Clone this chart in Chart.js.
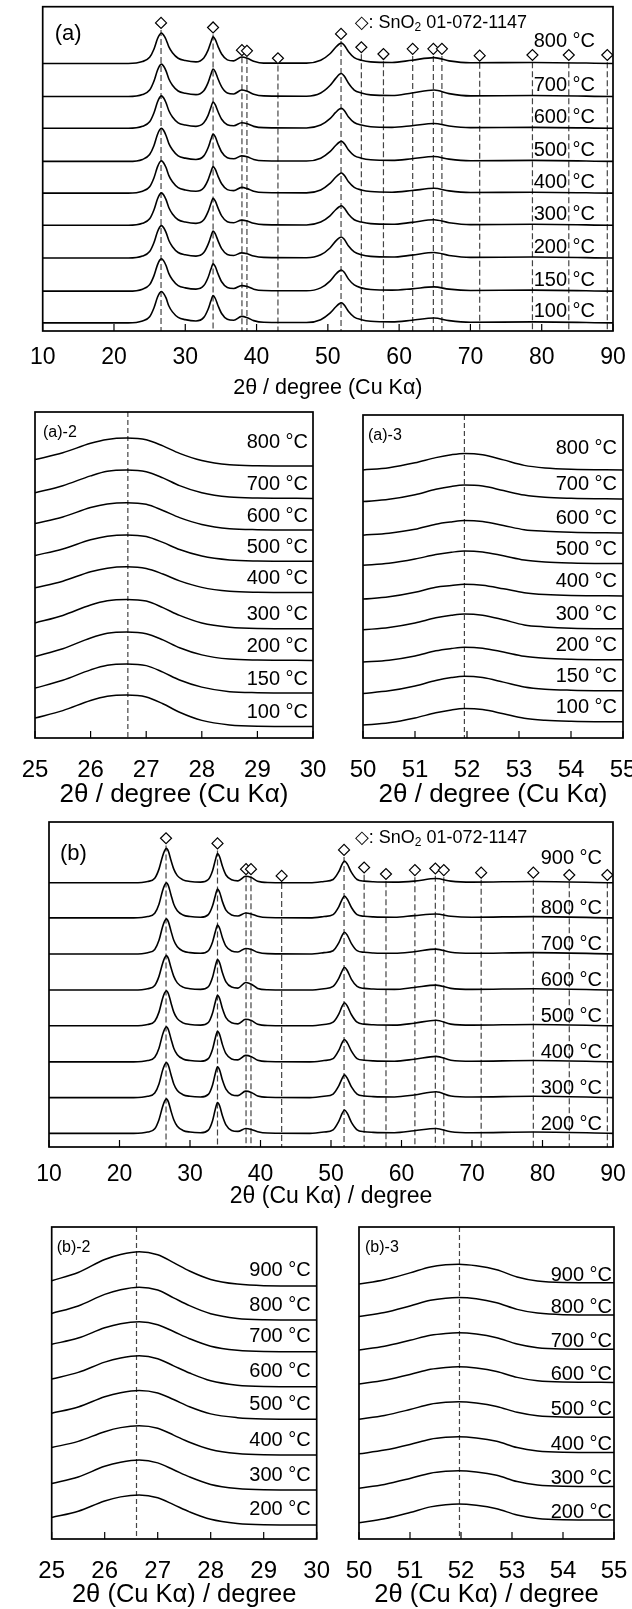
<!DOCTYPE html>
<html>
<head>
<meta charset="utf-8">
<script src="https://cdn.jsdelivr.net/npm/chart.js@4.4.0/dist/chart.umd.min.js"></script>
<style>
html, body { margin: 0; padding: 0; background: #fff; overflow: hidden; }
body { width: 632px; height: 1609px; position: relative; }
canvas { position: absolute; }
</style>
</head>
<body>
<canvas id="ca"></canvas>
<canvas id="ca2"></canvas>
<canvas id="ca3"></canvas>
<canvas id="cb"></canvas>
<canvas id="cb2"></canvas>
<canvas id="cb3"></canvas>
<script>
// --- wide scans, 2theta grid (deg)
const scanX = [10, 22, 24, 25, 25.6, 26.1, 26.4, 26.65, 26.95, 27.3, 27.7, 28.2, 29, 30, 31.5, 32.6, 33.2, 33.6, 33.9, 34.2,
	34.6, 35.1, 35.9, 36.8, 37.9, 38.7, 39.6, 41, 47, 49, 50.3, 51.1, 51.6, 51.9, 52.3, 52.9, 53.7, 54.7, 56, 59,
	61.8, 64.9, 67, 70, 78.7, 90];

// (a) intensities above each baseline
const tempsA = [100, 150, 200, 300, 400, 500, 600, 700, 800];
const offsetsA = [0.25, 1.23, 2.25, 3.26, 4.25, 5.23, 6.25, 7.23, 8.25];
const a100 = [0, 0, .06, .19, .46, .79, .92, .97, .91, .77, .52, .34, .17, .10, .06, .17, .42, .68, .84, .76, .53, .29, .11, .08, .2, .16, .07, .02, .01, .1, .3, .49, .59, .62, .55, .35, .18, .1, .05, .03, .08, .15, .07, .02, .03, 0];
const a150 = [0, 0, .06, .20, .47, .81, .95, 1.0, .94, .79, .54, .35, .17, .10, .06, .17, .42, .68, .84, .76, .53, .29, .11, .08, .17, .14, .06, .02, .01, .1, .31, .52, .62, .65, .58, .37, .19, .1, .05, .03, .07, .13, .06, .02, .03, 0];
const a200 = [0, 0, .06, .20, .47, .81, .95, 1.0, .94, .79, .54, .35, .17, .10, .06, .17, .42, .67, .83, .75, .53, .29, .11, .08, .16, .13, .06, .02, .01, .1, .31, .52, .62, .65, .58, .37, .19, .1, .05, .03, .09, .17, .08, .02, .03, 0];
const a300 = [0, 0, .06, .20, .47, .81, .95, 1.0, .94, .79, .54, .35, .17, .10, .06, .17, .42, .67, .83, .75, .53, .29, .11, .08, .16, .13, .06, .02, .01, .1, .29, .48, .57, .60, .53, .34, .17, .1, .05, .03, .09, .17, .08, .02, .03, 0];
const a400 = [0, 0, .06, .20, .47, .81, .95, 1.0, .94, .79, .54, .35, .17, .10, .06, .17, .41, .66, .82, .74, .52, .29, .11, .08, .18, .14, .06, .02, .01, .1, .3, .49, .59, .62, .55, .35, .18, .1, .05, .03, .08, .15, .07, .02, .03, 0];
const a500 = [0, 0, .06, .21, .48, .83, .97, 1.02, .96, .80, .55, .36, .17, .10, .06, .17, .42, .68, .84, .76, .53, .29, .11, .08, .17, .14, .06, .02, .01, .1, .3, .49, .59, .62, .55, .35, .18, .1, .05, .03, .08, .15, .07, .02, .03, 0];
const a600 = [0, 0, .06, .20, .47, .81, .95, 1.0, .94, .79, .54, .35, .17, .10, .06, .17, .40, .65, .81, .73, .51, .28, .11, .08, .17, .14, .06, .02, .01, .1, .3, .49, .59, .62, .55, .35, .18, .1, .05, .03, .08, .15, .07, .02, .03, 0];
const a700 = [0, 0, .06, .20, .47, .81, .95, 1.0, .94, .79, .54, .35, .17, .10, .06, .18, .43, .69, .85, .77, .54, .30, .11, .08, .2, .16, .07, .02, .01, .11, .34, .56, .68, .71, .63, .41, .2, .11, .05, .03, .11, .2, .09, .02, .03, 0];
const a800 = [0, 0, .06, .19, .44, .76, .89, .94, .88, .74, .51, .33, .16, .09, .05, .17, .41, .66, .82, .74, .52, .29, .11, .08, .2, .16, .07, .01, .01, .1, .3, .5, .6, .63, .56, .36, .18, .1, .05, .03, .1, .18, .08, .02, .03, 0];

// (b)
const tempsB = [200, 300, 400, 500, 600, 700, 800, 900];
const offsetsB = [0.42, 1.52, 2.62, 3.73, 4.83, 5.94, 7.05, 8.13];
const b200 = [0, 0, .04, .14, .42, .81, .99, 1.06, .96, .69, .42, .22, .09, .04, .02, .1, .39, .75, .95, .85, .54, .26, .09, .06, .15, .12, .05, .01, 0, .04, .11, .37, .62, .72, .62, .34, .11, .05, .03, .02, .08, .15, .05, .02, .04, 0];
const b300 = [0, 0, .04, .14, .42, .83, 1.01, 1.08, .98, .71, .42, .22, .09, .04, .02, .1, .39, .75, .95, .85, .54, .26, .09, .06, .2, .16, .05, .01, 0, .04, .11, .36, .6, .70, .6, .33, .11, .05, .03, .02, .08, .18, .05, .02, .04, 0];
const b400 = [0, 0, .04, .14, .42, .83, 1.01, 1.08, .98, .71, .42, .22, .09, .04, .02, .1, .39, .74, .94, .84, .53, .25, .09, .06, .2, .16, .05, .01, 0, .04, .1, .35, .6, .69, .59, .33, .1, .05, .03, .02, .08, .17, .05, .02, .04, 0];
const b500 = [0, 0, .04, .14, .42, .83, 1.01, 1.08, .98, .71, .42, .22, .09, .04, .02, .1, .39, .74, .94, .84, .53, .25, .09, .06, .2, .16, .05, .01, 0, .04, .11, .36, .61, .71, .61, .34, .11, .05, .03, .02, .08, .17, .05, .02, .04, 0];
const b600 = [0, 0, .04, .14, .42, .81, .99, 1.06, .96, .69, .42, .22, .09, .04, .02, .1, .39, .74, .94, .84, .53, .25, .09, .06, .23, .18, .05, .01, 0, .04, .11, .36, .6, .70, .6, .33, .11, .05, .03, .02, .08, .15, .05, .02, .04, 0];
const b700 = [0, 0, .04, .14, .42, .83, 1.01, 1.08, .98, .71, .42, .22, .09, .04, .02, .1, .37, .69, .89, .79, .5, .24, .09, .06, .17, .14, .05, .01, 0, .04, .1, .34, .58, .67, .58, .32, .1, .05, .03, .02, .07, .15, .05, .02, .04, 0];
const b800 = [0, 0, .04, .14, .42, .83, 1.01, 1.08, .98, .71, .42, .22, .09, .04, .02, .1, .37, .69, .89, .79, .5, .24, .09, .06, .15, .12, .05, .01, 0, .04, .1, .34, .58, .67, .58, .32, .1, .05, .03, .02, .07, .12, .05, .02, .04, 0];
const b900 = [0, 0, .04, .14, .42, .81, .99, 1.06, .96, .69, .42, .22, .09, .04, .02, .1, .37, .7, .9, .8, .51, .24, .09, .06, .2, .16, .05, .01, 0, .04, .1, .34, .58, .67, .58, .32, .1, .05, .03, .02, .05, .13, .05, .02, .04, 0];

// SnO2 01-072-1147 reference lines and marker heights
const peaksSnO2 = [26.6, 33.9, 37.95, 38.65, 43.0, 51.85, 54.7, 57.8, 61.9, 64.8, 66.0, 71.3, 78.7, 83.8, 89.2];
const markA = [9.5, 9.36, 8.66, 8.64, 8.41, 9.16, 8.75, 8.54, 8.7, 8.7, 8.7, 8.49, 8.51, 8.51, 8.51];
const markB = [9.5, 9.34, 8.55, 8.55, 8.34, 9.14, 8.6, 8.4, 8.52, 8.57, 8.52, 8.44, 8.44, 8.37, 8.37];

// --- close-ups
const zoomX1 = [25, 25.5, 26, 26.3, 26.65, 27, 27.3, 27.6, 28, 28.5, 29, 30];
const zoomX2 = [50, 50.5, 51, 51.4, 51.7, 51.95, 52.3, 52.7, 53.1, 53.5, 54, 55];

const offsetsA2 = [0.35, 1.38, 2.38, 3.35, 4.46, 5.42, 6.38, 7.35, 8.34];
const a2_100 = [.26, .49, .80, .93, .97, .91, .70, .44, .19, .05, .01, 0];
const a2_150 = [.15, .39, .71, .85, .89, .84, .64, .40, .18, .04, .01, 0];
const a2_200 = [.12, .36, .69, .83, .87, .82, .63, .39, .17, .04, .01, 0];
const a2_300 = [.18, .41, .73, .86, .90, .85, .65, .41, .18, .05, .01, 0];
const a2_400 = [.15, .35, .64, .75, .79, .74, .57, .36, .16, .04, .01, 0];
const a2_500 = [.18, .38, .66, .77, .81, .76, .58, .36, .16, .04, .01, 0];
const a2_600 = [.20, .40, .69, .80, .84, .79, .60, .38, .17, .04, .01, 0];
const a2_700 = [.17, .39, .69, .83, .87, .82, .63, .39, .17, .04, .01, 0];
const a2_800 = [.20, .41, .70, .82, .86, .81, .62, .39, .17, .04, .01, 0];

const offsetsA3 = [0.5, 1.46, 2.42, 3.38, 4.4, 5.4, 6.35, 7.4, 8.3];
const a3_100 = [-.10, -.03, .12, .28, .37, .41, .38, .25, .11, .05, .02, 0];
const a3_150 = [-.08, 0, .15, .32, .41, .45, .41, .27, .12, .05, .02, 0];
const a3_200 = [-.07, -.01, .12, .28, .35, .39, .36, .24, .11, .05, .02, 0];
const a3_300 = [-.03, .04, .18, .34, .42, .46, .42, .28, .12, .06, .02, 0];
const a3_400 = [-.10, -.03, .11, .27, .32, .36, .33, .22, .10, .04, .01, 0];
const a3_500 = [-.05, .01, .14, .28, .35, .39, .36, .24, .11, .05, .02, 0];
const a3_600 = [-.07, -.01, .11, .27, .34, .38, .35, .23, .10, .05, .02, 0];
const a3_700 = [-.08, -.01, .13, .30, .39, .43, .40, .26, .12, .05, .02, 0];
const a3_800 = [0, .07, .22, .38, .47, .51, .47, .31, .14, .06, .02, 0];

const offsetsB2 = [0.45, 1.57, 2.69, 3.84, 4.88, 6.0, 7.02, 8.11];
const b2_200 = [.24, .44, .77, .90, .96, .87, .65, .42, .18, .05, .01, 0];
const b2_300 = [.21, .42, .76, .89, .96, .87, .65, .42, .18, .05, .01, 0];
const b2_400 = [.24, .44, .75, .88, .94, .86, .64, .41, .18, .05, .01, 0];
const b2_500 = [.19, .39, .72, .85, .92, .84, .63, .40, .17, .05, .01, 0];
const b2_600 = [.25, .46, .79, .92, .99, .90, .67, .44, .19, .05, .01, 0];
const b2_700 = [.24, .44, .77, .90, .96, .87, .65, .42, .18, .05, .01, 0];
const b2_800 = [.21, .45, .82, .97, 1.05, .96, .71, .46, .20, .05, .01, 0];
const b2_900 = [.17, .43, .85, 1.01, 1.10, 1.0, .75, .48, .21, .06, .01, 0];

const offsetsB3 = [0.61, 1.68, 2.77, 3.9, 5.02, 6.08, 7.18, 8.21];
const b3_200 = [-.09, .04, .24, .42, .49, .51, .47, .36, .16, .05, .01, 0];
const b3_300 = [-.05, .07, .26, .43, .49, .51, .47, .36, .16, .05, .01, 0];
const b3_400 = [-.04, .08, .26, .43, .49, .51, .47, .36, .16, .05, .01, 0];
const b3_500 = [-.06, .06, .25, .42, .48, .50, .46, .35, .16, .05, .01, 0];
const b3_600 = [-.05, .07, .25, .42, .48, .50, .46, .35, .16, .05, .01, 0];
const b3_700 = [-.02, .10, .29, .45, .51, .53, .49, .37, .17, .05, .01, 0];
const b3_800 = [-.05, .08, .29, .47, .54, .56, .52, .39, .18, .06, .01, 0];
const b3_900 = [-.04, .10, .32, .51, .58, .60, .55, .42, .19, .06, .01, 0];

const refA2 = 26.67, refA3 = 51.95, refB2 = 26.6, refB3 = 51.97;

const FONT = "'Liberation Sans', Arial, 'DejaVu Sans', sans-serif";
Chart.defaults.font.family = FONT;
Chart.defaults.color = '#000';

function stackSets(xs, traces, offsets, width)
{
	return traces.map((vals, i) => ({
		type: 'line',
		data: xs.map((x, j) => ({ x: x, y: offsets[i] + vals[j] })),
		borderColor: '#000',
		borderWidth: width,
		pointRadius: 0,
		cubicInterpolationMode: 'monotone',
		fill: false,
		order: 1
	}));
}

function refSets(xs, tops, dash)
{
	return xs.map((x, i) => ({
		type: 'line',
		data: [{ x: x, y: tops[i] }, { x: x, y: 0 }],
		borderColor: '#444',
		borderWidth: 1.2,
		borderDash: dash,
		pointRadius: 0,
		order: 2
	}));
}

function markerSet(xs, ys)
{
	return {
		type: 'line',
		showLine: false,
		data: xs.map((x, i) => ({ x: x, y: ys[i] })),
		pointStyle: 'rectRot',
		pointRadius: 5.5,
		pointBackgroundColor: '#fff',
		pointBorderColor: '#000',
		pointBorderWidth: 1.2,
		order: 0
	};
}

// frame, inward ticks, temperature labels, panel tag, legend
const framePlugin = {
	id: 'frame',
	afterDatasetsDraw: function(chart, args, o)
	{
		const { ctx, chartArea: a, scales: { x, y } } = chart;
		ctx.save();
		ctx.strokeStyle = '#000';
		ctx.lineWidth = 1.7;
		ctx.strokeRect(a.left, a.top, a.width, a.height);
		ctx.lineWidth = 1.2;
		x.ticks.forEach((t) => {
			const px = x.getPixelForValue(t.value);
			ctx.beginPath();
			ctx.moveTo(px, a.bottom);
			ctx.lineTo(px, a.bottom - 7);
			ctx.stroke();
		});

		ctx.fillStyle = '#000';
		ctx.textBaseline = 'middle';
		ctx.textAlign = 'left';
		ctx.font = o.tagSize + 'px ' + FONT;
		ctx.fillText(o.tag, a.left + o.tagAt[0], a.top + o.tagAt[1]);

		ctx.textAlign = 'right';
		ctx.font = '20px ' + FONT;
		o.temps.forEach((t, i) => {
			const lift = i === o.temps.length - 1 ? o.topLift : o.lift;
			ctx.fillText(t + ' \u00B0C', a.right - o.inset, y.getPixelForValue(o.offsets[i] + lift));
		});

		if (o.legend)
		{
			let lx = a.left + o.legend[0];
			const ly = a.top + o.legend[1];
			ctx.textAlign = 'left';
			ctx.font = '18px ' + FONT;
			ctx.fillText('\u25C7: SnO', lx, ly);
			lx += ctx.measureText('\u25C7: SnO').width;
			ctx.font = '12px ' + FONT;
			ctx.fillText('2', lx, ly + 5);
			lx += ctx.measureText('2').width;
			ctx.font = '18px ' + FONT;
			ctx.fillText(' 01-072-1147', lx, ly);
		}
		ctx.restore();
	}
};

// note: chart.js puts the tick padding in twice under the labels, hence the negative title top padding
function panel(id, box, sets, ax, frame)
{
	const cv = document.getElementById(id);
	cv.width = box.w;
	cv.height = box.h;
	cv.style.left = box.left + 'px';
	cv.style.top = box.top + 'px';
	return new Chart(cv, {
		type: 'line',
		data: { datasets: sets },
		options: {
			responsive: false,
			animation: false,
			events: [],
			layout: { padding: box.pad },
			plugins: {
				legend: { display: false },
				tooltip: { enabled: false },
				frame: frame
			},
			scales: {
				x: {
					type: 'linear',
					min: ax.min,
					max: ax.max,
					grid: { display: false, drawTicks: false },
					border: { display: false },
					ticks: {
						stepSize: ax.step,
						padding: ax.tickPad,
						autoSkip: false,
						maxRotation: 0,
						color: '#000',
						font: { size: ax.tickSize, lineHeight: 1 }
					},
					title: {
						display: true,
						text: ax.title,
						color: '#000',
						font: { size: ax.titleSize, lineHeight: 1 },
						padding: { top: ax.titleTop, bottom: ax.titleBottom }
					}
				},
				y: { display: false, min: 0, max: 10 }
			}
		},
		plugins: [framePlugin]
	});
}

const titleA = '2\u03B8 / degree (Cu K\u03B1)';
const titleB = '2\u03B8 (Cu K\u03B1) / degree';
const markTopsA = markA.map(v => v - 0.22);
const markTopsB = markB.map(v => v - 0.22);

panel('ca',
	{ left: 0, top: 0, w: 642, h: 402, pad: { left: 42.7, right: 29, top: 6, bottom: 0 } },
	stackSets(scanX, [a100, a150, a200, a300, a400, a500, a600, a700, a800], offsetsA, 1.6)
		.concat(refSets(peaksSnO2, markTopsA, [6, 3]), [markerSet(peaksSnO2, markA)]),
	{ min: 10, max: 90, step: 10, tickPad: 15.5, tickSize: 23, title: titleA, titleSize: 21.5, titleTop: -7.75, titleBottom: 3.25 },
	{ tag: '(a)', tagSize: 22, tagAt: [12, 27], temps: tempsA, offsets: offsetsA, lift: 0.34, topLift: 0.67, inset: 18, legend: [312, 16] }
);

panel('ca2',
	{ left: 0, top: 380, w: 347, h: 430, pad: { left: 35, right: 34, top: 32, bottom: 0 } },
	stackSets(zoomX1, [a2_100, a2_150, a2_200, a2_300, a2_400, a2_500, a2_600, a2_700, a2_800], offsetsA2, 1.5)
		.concat(refSets([refA2], [10], [5, 3])),
	{ min: 25, max: 30, step: 1, tickPad: 20, tickSize: 24, title: titleA, titleSize: 26, titleTop: -20, titleBottom: 2 },
	{ tag: '(a)-2', tagSize: 16, tagAt: [8, 21], temps: tempsA, offsets: offsetsA2, lift: 0.43, topLift: 0.71, inset: 5 }
);

panel('ca3',
	{ left: 320, top: 380, w: 337, h: 430, pad: { left: 43, right: 34, top: 35, bottom: 0 } },
	stackSets(zoomX2, [a3_100, a3_150, a3_200, a3_300, a3_400, a3_500, a3_600, a3_700, a3_800], offsetsA3, 1.5)
		.concat(refSets([refA3], [10], [5, 3])),
	{ min: 50, max: 55, step: 1, tickPad: 20, tickSize: 24, title: titleA, titleSize: 26, titleTop: -20, titleBottom: 2 },
	{ tag: '(a)-3', tagSize: 16, tagAt: [5, 21], temps: tempsA, offsets: offsetsA3, lift: 0.44, topLift: 0.65, inset: 6 }
);

panel('cb',
	{ left: 0, top: 800, w: 643, h: 410, pad: { left: 49, right: 30, top: 22, bottom: 0 } },
	stackSets(scanX, [b200, b300, b400, b500, b600, b700, b800, b900], offsetsB, 1.6)
		.concat(refSets(peaksSnO2, markTopsB, [6, 3]), [markerSet(peaksSnO2, markB)]),
	{ min: 10, max: 90, step: 10, tickPad: 16.5, tickSize: 23, title: titleB, titleSize: 23, titleTop: -17.5, titleBottom: 1.5 },
	{ tag: '(b)', tagSize: 22, tagAt: [11, 32], temps: tempsB, offsets: offsetsB, lift: 0.28, topLift: 0.76, inset: 11, legend: [306, 16] }
);

panel('cb2',
	{ left: 0, top: 1180, w: 351, h: 429, pad: { left: 51.7, right: 34.3, top: 47, bottom: 0 } },
	stackSets(zoomX1, [b2_200, b2_300, b2_400, b2_500, b2_600, b2_700, b2_800, b2_900], offsetsB2, 1.5)
		.concat(refSets([refB2], [10], [5, 3])),
	{ min: 25, max: 30, step: 1, tickPad: 20, tickSize: 24, title: titleB, titleSize: 25.5, titleTop: -20.75, titleBottom: 1.25 },
	{ tag: '(b)-2', tagSize: 16, tagAt: [5, 21], temps: tempsB, offsets: offsetsB2, lift: 0.48, topLift: 0.51, inset: 6 }
);

panel('cb3',
	{ left: 320, top: 1180, w: 328, h: 429, pad: { left: 39, right: 34, top: 47, bottom: 0 } },
	stackSets(zoomX2, [b3_200, b3_300, b3_400, b3_500, b3_600, b3_700, b3_800, b3_900], offsetsB3, 1.5)
		.concat(refSets([refB3], [10], [5, 3])),
	{ min: 50, max: 55, step: 1, tickPad: 20, tickSize: 24, title: titleB, titleSize: 25.5, titleTop: -20.75, titleBottom: 1.25 },
	{ tag: '(b)-3', tagSize: 16, tagAt: [6, 21], temps: tempsB, offsets: offsetsB3, lift: 0.25, topLift: 0.25, inset: 2 }
);
</script>
</body>
</html>
